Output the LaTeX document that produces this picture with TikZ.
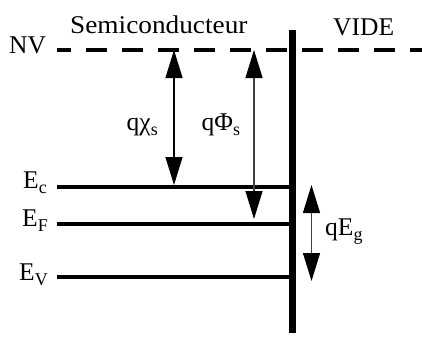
\documentclass[tikz,border=0pt]{standalone}
\usepackage{fontspec}
\setmainfont{Liberation Serif}
\usetikzlibrary{arrows.meta}
\newcommand\lbsub[1]{\raisebox{-5pt}{\fontsize{18}{18}\selectfont #1}}
\begin{document}
\begin{tikzpicture}[x=1pt,y=-1pt,
  lbl/.style={inner sep=0pt,anchor=base west,font=\fontsize{25.5}{28}\selectfont},
  level/.style={line width=4pt},
  dimarrow/.style={line width=1.2pt,{Triangle[length=28pt,width=17pt,color=black,fill=black]}-{Triangle[length=28pt,width=17pt,color=black,fill=black]}}]
\useasboundingbox (0,0) rectangle (422,338);
% coordinates
\coordinate (nvA) at (57,50.3);
\coordinate (nvB) at (422,50.3);
\coordinate (barT) at (292.3,30);
\coordinate (barB) at (292.3,333);
\coordinate (ecA) at (57,186.7);
\coordinate (ecB) at (292,186.7);
\coordinate (efA) at (57,224.3);
\coordinate (efB) at (292,224.3);
\coordinate (evA) at (57,277.3);
\coordinate (evB) at (292,277.3);
\coordinate (chiT) at (174,50);
\coordinate (chiB) at (174,185);
\coordinate (phiT) at (254,50);
\coordinate (phiB) at (254,219);
\coordinate (egT) at (311.5,185);
\coordinate (egB) at (311.5,281);
% levels
\draw[line width=4pt,dash pattern=on 21pt off 15pt,dash phase=7pt] (nvA) -- (nvB);
\draw[level] (ecA) -- (ecB);
\draw[level] (efA) -- (efB);
\draw[level] (evA) -- (evB);
\draw[line width=7pt] (barT) -- (barB);
% arrows
\draw[dimarrow] (chiT) -- (chiB);
\draw[dimarrow,draw=black!75] (phiT) -- (phiB);
\draw[dimarrow,draw=black!75] (egT) -- (egB);
% labels
\node[lbl] (nv) at (9,53.3) {NV};
\node[lbl] (semi) at (70,33.3) {\scalebox{1.07}[1]{Semiconducteur}};
\node[lbl] (vide) at (333,35) {VIDE};
\node[lbl] (chi) at (126.5,130) {qχ\lbsub{s}};
\node[lbl] (phi) at (201.5,130.5) {qΦ\lbsub{s}};
\node[lbl] (eg) at (325,235) {qE\lbsub{g}};
\node[lbl,anchor=base east] (ec) at (47,188.5) {E\lbsub{c}};
\node[lbl,anchor=base east] (ef) at (48,226.5) {E\lbsub{F}};
\node[lbl,anchor=base east] (ev) at (48,280) {E\lbsub{V}};
\end{tikzpicture}
\end{document}
